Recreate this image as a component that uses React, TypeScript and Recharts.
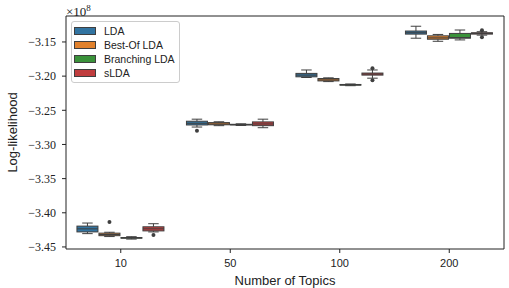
import React from 'react';
import { ComposedChart, Bar, XAxis, YAxis, Legend } from 'recharts';

const categories = ['10', '50', '100', '200'];
const seriesNames = ['LDA', 'Best-Of LDA', 'Branching LDA', 'sLDA'];
const seriesColors = ['#3274A1', '#E1812C', '#3A923A', '#C03D3E'];

// [min whisker, q1, median, q3, max whisker] per topic count
const ldaStats = [
  [-3.4305, -3.428, -3.4235, -3.4195, -3.415],
  [-3.2745, -3.2715, -3.269, -3.266, -3.263],
  [-3.202, -3.201, -3.1985, -3.196, -3.191],
  [-3.1445, -3.1385, -3.1365, -3.134, -3.127],
];
const bestOfStats = [
  [-3.4348, -3.4335, -3.4318, -3.4298, -3.4285],
  [-3.2725, -3.2712, -3.27, -3.268, -3.2668],
  [-3.208, -3.207, -3.2055, -3.2035, -3.2025],
  [-3.149, -3.146, -3.144, -3.141, -3.139],
];
const branchingStats = [
  [-3.4385, -3.4372, -3.4368, -3.4362, -3.435],
  [-3.2722, -3.2715, -3.271, -3.2705, -3.2698],
  [-3.214, -3.2132, -3.2128, -3.2122, -3.2115],
  [-3.147, -3.1445, -3.1435, -3.1375, -3.1325],
];
const sldaStats = [
  [-3.428, -3.4265, -3.4235, -3.4205, -3.416],
  [-3.2755, -3.2725, -3.27, -3.267, -3.263],
  [-3.203, -3.1985, -3.197, -3.1955, -3.191],
  [-3.14, -3.1385, -3.1375, -3.1365, -3.135],
];

const ldaOutliers = [[], [-3.28], [], []];
const bestOfOutliers = [[-3.4135], [], [], []];
const branchingOutliers = [[], [], [], []];
const sldaOutliers = [[-3.4325], [], [-3.1885, -3.206], [-3.133, -3.143]];

const yTicks = [-3.45, -3.4, -3.35, -3.3, -3.25, -3.2, -3.15];
const yDomain = [-3.453, -3.112];
const scaleText = '×10';
const scaleExp = '8';

const allStats = [ldaStats, bestOfStats, branchingStats, sldaStats];
const allOutliers = [ldaOutliers, bestOfOutliers, branchingOutliers, sldaOutliers];

const data = categories.map((c, i) => ({
  topic: c,
  stats: allStats.map((s) => s[i]),
  outliers: allOutliers.map((o) => o[i]),
}));

const LINE = '#3f3f3f';
const SANS = '"Liberation Sans", Arial, sans-serif';
const SERIF = '"Liberation Serif", "DejaVu Serif", serif';

const makeBox = (k: number) => (props: any) => {
  const { x, y, width, height, payload } = props;
  const st = payload.stats[k];
  const outs: number[] = payload.outliers[k];
  const lo = st[0];
  const hi = st[4];
  const py = (v: number) => y + (height * (hi - v)) / (hi - lo);
  const cx = x + width / 2;
  const capHalf = width / 4;
  const yMin = py(st[0]);
  const yQ1 = py(st[1]);
  const yMed = py(st[2]);
  const yQ3 = py(st[3]);
  const yMax = py(st[4]);
  return (
    <g>
      <line x1={cx} x2={cx} y1={yMax} y2={yQ3} stroke={LINE} strokeWidth={1} />
      <line x1={cx} x2={cx} y1={yQ1} y2={yMin} stroke={LINE} strokeWidth={1} />
      <line x1={cx - capHalf} x2={cx + capHalf} y1={yMax} y2={yMax} stroke={LINE} strokeWidth={1} />
      <line x1={cx - capHalf} x2={cx + capHalf} y1={yMin} y2={yMin} stroke={LINE} strokeWidth={1} />
      <rect x={x} y={yQ3} width={width} height={Math.max(yQ1 - yQ3, 0.5)} fill={seriesColors[k]} stroke={LINE} strokeWidth={1} />
      <line x1={x} x2={x + width} y1={yMed} y2={yMed} stroke={LINE} strokeWidth={1} />
      {outs.map((o, j) => (
        <circle key={j} cx={cx} cy={py(o)} r={2} fill={LINE} />
      ))}
    </g>
  );
};

const LegendBox = () => (
  <div
    style={{
      border: '1px solid #cccccc',
      borderRadius: 3,
      background: 'rgba(255,255,255,0.85)',
      padding: '2px 4px 2px 2px',
      fontFamily: SANS,
      fontSize: 10.5,
      color: '#222',
      lineHeight: '14px',
    }}
  >
    {seriesNames.map((n, i) => (
      <div key={n} style={{ display: 'flex', alignItems: 'center', height: 14 }}>
        <span
          style={{
            display: 'inline-block',
            width: 20,
            height: 6,
            background: seriesColors[i],
            border: `1px solid ${LINE}`,
            marginRight: 8,
          }}
        />
        <span>{n}</span>
      </div>
    ))}
  </div>
);

const fmt = (v: number) => '\u2212' + Math.abs(v).toFixed(2);

export default function App() {
  return (
    <div style={{ position: 'absolute', left: 0, top: 0, width: 509, height: 288, background: '#fff' }}>
      <div
        style={{
          position: 'absolute',
          left: 66,
          top: 1,
          fontFamily: SERIF,
          fontSize: 13,
          lineHeight: '14px',
          color: '#222',
          zIndex: 2,
          whiteSpace: 'nowrap',
        }}
      >
        {scaleText}
        <sup style={{ fontSize: 9, verticalAlign: 5 }}>{scaleExp}</sup>
      </div>
      <ComposedChart
        width={509}
        height={288}
        data={data}
        margin={{ top: 15, right: 4, bottom: 0, left: 0 }}
        barCategoryGap="10%"
        barGap={1}
      >
        <XAxis
          dataKey="topic"
          height={39}
          tickSize={4}
          tickMargin={6}
          axisLine={{ stroke: '#222', strokeWidth: 1 }}
          tickLine={{ stroke: '#222' }}
          tick={{ fontSize: 11, fill: '#222', fontFamily: SANS }}
          label={{
            value: 'Number of Topics',
            position: 'insideBottom',
            offset: 3,
            style: { fontSize: 13, fill: '#222', fontFamily: SANS },
          }}
        />
        <XAxis
          xAxisId="top"
          dataKey="topic"
          orientation="top"
          height={1}
          tick={false}
          tickLine={false}
          axisLine={{ stroke: '#222', strokeWidth: 1 }}
        />
        <YAxis
          type="number"
          domain={yDomain}
          ticks={yTicks}
          allowDataOverflow
          width={66}
          tickSize={4}
          tickMargin={6}
          tickFormatter={fmt}
          axisLine={{ stroke: '#222', strokeWidth: 1 }}
          tickLine={{ stroke: '#222' }}
          tick={{ fontSize: 12, fill: '#222', fontFamily: SERIF, style: { fontFamily: SERIF } }}
          label={{
            content: (p: any) => {
              const vb = p.viewBox || { x: 0, y: 16, width: 66, height: 233 };
              const cx = vb.x + 12;
              const cy = vb.y + vb.height / 2;
              return (
                <text
                  x={cx}
                  y={cy}
                  transform={`rotate(-90 ${cx} ${cy})`}
                  textAnchor="middle"
                  dominantBaseline="central"
                  fontSize={13}
                  fill="#222"
                  style={{ fontFamily: SANS }}
                >
                  Log-likelihood
                </text>
              );
            },
          }}
        />
        <YAxis
          yAxisId="right"
          orientation="right"
          type="number"
          domain={yDomain}
          width={1}
          tick={false}
          tickLine={false}
          axisLine={{ stroke: '#222', strokeWidth: 1 }}
        />
        {seriesNames.map((n, k) => (
          <Bar
            key={n}
            name={n}
            dataKey={(d: any) => [d.stats[k][0], d.stats[k][4]]}
            fill={seriesColors[k]}
            shape={makeBox(k)}
            isAnimationActive={false}
          />
        ))}
        <Legend
          layout="vertical"
          align="center"
          verticalAlign="middle"
          wrapperStyle={{ left: 71, top: 21, width: 'auto', height: 'auto' }}
          content={() => <LegendBox />}
        />
      </ComposedChart>
    </div>
  );
}
